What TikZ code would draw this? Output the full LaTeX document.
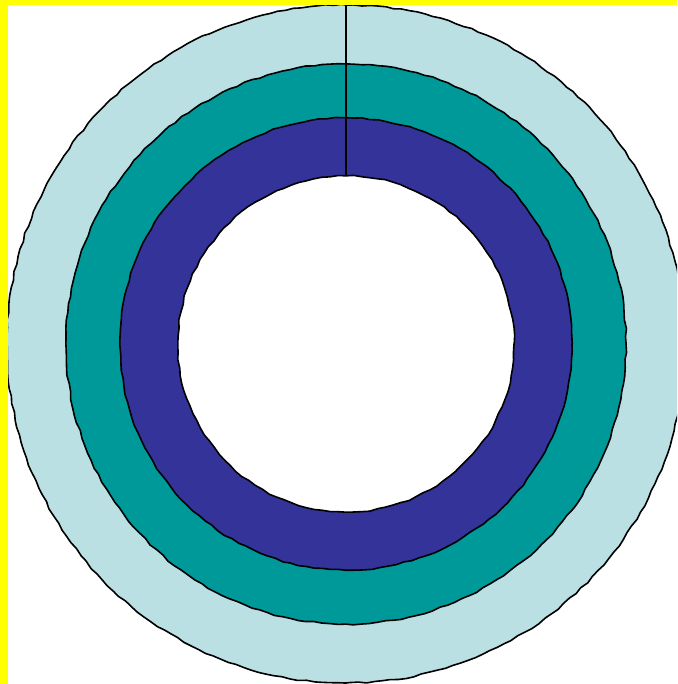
\documentclass[tikz,border=0pt]{standalone}
\usetikzlibrary{decorations.pathmorphing}
\definecolor{ringlight}{HTML}{BBE0E3}
\definecolor{ringteal}{HTML}{009999}
\definecolor{ringblue}{HTML}{333399}
\definecolor{bandyellow}{HTML}{FFFF00}
\tikzset{
  ring/.style={draw=black, line width=1.6pt, line join=round,
    decorate, decoration={random steps, segment length=8pt, amplitude=0.8pt}},
  band/.style={fill=bandyellow, draw=none}
}
\begin{document}
\begin{tikzpicture}[x=1pt, y=-1pt]
\useasboundingbox (0,0) rectangle (677,684);
\clip (0,0) rectangle (677,684);
\coordinate (c) at (346,344);
\pgfmathsetseed{7}
\fill[white] (0,0) rectangle (677,684);
\filldraw[ring, fill=ringlight] (c) circle[radius=339];
\filldraw[ring, fill=ringteal] (c) circle[radius=280];
\filldraw[ring, fill=ringblue] (c) circle[radius=226];
\filldraw[ring, fill=white] (c) circle[radius=168];
\coordinate (top) at (346,5);
\coordinate (inner) at (346,176);
\draw[black, line width=1.7pt] (top) -- (inner);
\fill[band] (0,0) rectangle (677,5);
\fill[band] (0,0) rectangle (8,684);
\end{tikzpicture}
\end{document}
